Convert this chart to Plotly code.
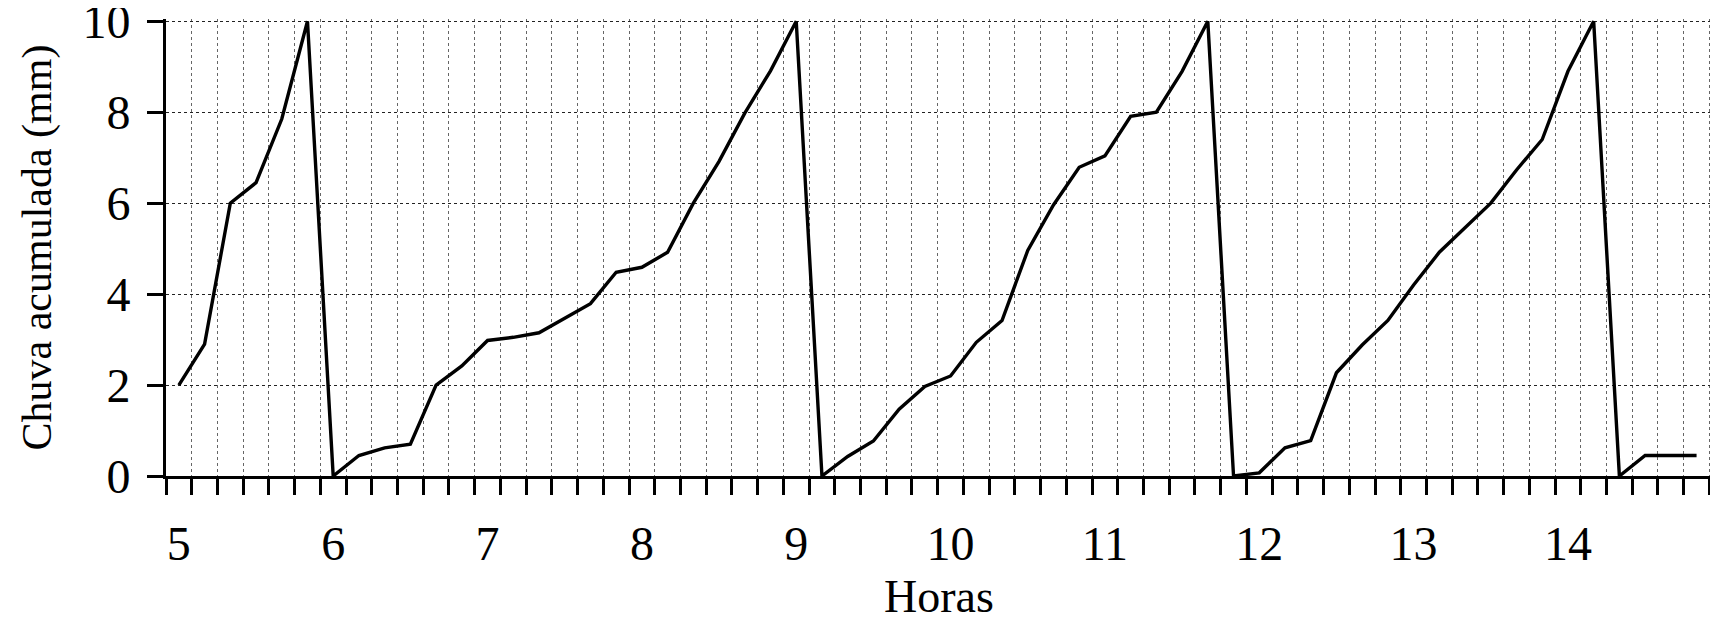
import plotly.graph_objects as go

# 10-minute readings starting at 5:00 (60 readings: 5:00 ... 14:50)
start_hour = 5
step_minutes = 10
chuva_mm = [
    2.0, 2.9, 6.0, 6.45, 7.85, 10.0,
    0.0, 0.45, 0.62, 0.70, 2.0, 2.42,
    2.98, 3.05, 3.15, 3.47, 3.79, 4.48,
    4.59, 4.92, 6.0, 6.92, 7.98, 8.91,
    10.0, 0.0, 0.43, 0.77, 1.47, 1.97,
    2.2, 2.94, 3.42, 4.96, 5.96, 6.79,
    7.04, 7.91, 8.0, 8.9, 10.0, 0.0,
    0.07, 0.62, 0.78, 2.27, 2.88, 3.42,
    4.2, 4.92, 5.45, 6.0, 6.73, 7.4,
    8.9, 10.0, 0.0, 0.45, 0.45, 0.45,
]
hour_labels = ["5", "6", "7", "8", "9", "10", "11", "12", "13", "14"]
y_ticks = [0, 2, 4, 6, 8, 10]

per_hour = 60 // step_minutes
slots = list(range(len(chuva_mm)))           # one slot per reading
hour_slots = [i * per_hour for i in range(len(hour_labels))]

FONT = "Liberation Serif, Times New Roman, serif"

fig = go.Figure()
fig.add_trace(go.Scatter(
    x=slots, y=chuva_mm, mode="lines",
    line=dict(color="black", width=3.4),
    showlegend=False, hoverinfo="skip",
))

# the page body has an 8px margin, so margins are reduced by 8px on left/top
fig.update_layout(
    width=1718, height=620,
    margin=dict(l=158, r=13.6, t=11.4, b=152),
    paper_bgcolor="white", plot_bgcolor="white",
    font=dict(family=FONT, size=48, color="black"),
    xaxis=dict(
        range=[-0.5, len(chuva_mm) - 0.4],
        automargin=False,
        tickmode="array", tickvals=hour_slots, ticktext=hour_labels,
        ticks="", showgrid=False, zeroline=False,
        showline=True, linewidth=3, linecolor="black",
        ticklabelstandoff=23,
        tickfont=dict(family=FONT, size=48, color="black"),
        minor=dict(
            tickmode="linear", tick0=-0.5, dtick=1,
            ticks="outside", ticklen=16, tickwidth=3, tickcolor="black",
            showgrid=True, gridcolor="#666666", gridwidth=1, griddash="dot",
        ),
        title=dict(text="Horas", font=dict(family=FONT, size=46, color="black"), standoff=12),
    ),
    yaxis=dict(
        range=[0, 10.05],
        automargin=False,
        tickmode="array", tickvals=y_ticks,
        ticks="outside", ticklen=16, tickwidth=3, tickcolor="black",
        showgrid=True, gridcolor="#222222", gridwidth=1, griddash="dot",
        zeroline=False, showline=True, linewidth=3, linecolor="black",
        ticklabelstandoff=7, ticklabeloverflow="allow",
        tickfont=dict(family=FONT, size=48, color="black"),
        title=dict(text="Chuva acumulada (mm)", font=dict(family=FONT, size=42, color="black"), standoff=18),
    ),
)

fig.write_html("out.html")
